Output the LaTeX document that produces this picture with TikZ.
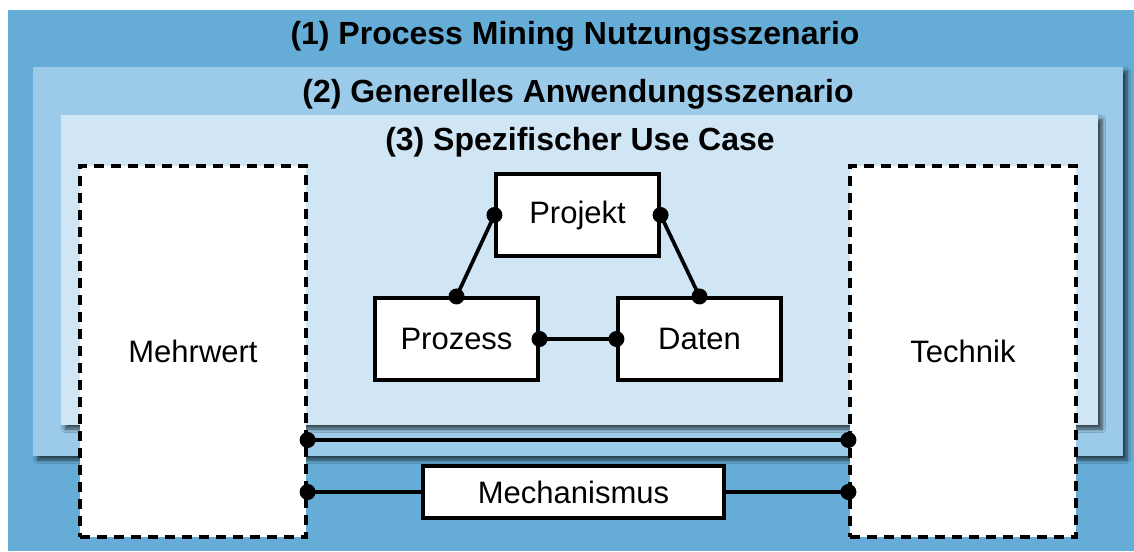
\documentclass[tikz,border=0pt]{standalone}
\usepackage{fontspec}
\setmainfont{Liberation Sans}
\usetikzlibrary{shadows.blur,calc}

\definecolor{levelone}{HTML}{65ADD6}
\definecolor{leveltwo}{HTML}{9BCBE9}
\definecolor{levelthree}{HTML}{D0E6F5}

\tikzset{
  frameshadow/.style={blur shadow={shadow xshift=4pt, shadow yshift=-4pt,
      shadow blur radius=3.5pt, shadow blur steps=8, shadow opacity=65}},
  titletext/.style={anchor=base, font=\fontsize{32}{36}\selectfont\bfseries},
  sidebox/.style={draw=black, fill=white, line width=3.2pt,
      dash pattern=on 10pt off 7pt, minimum width=226pt, minimum height=371pt,
      inner sep=0pt, font=\fontsize{31}{36}\selectfont},
  entity/.style={draw=black, fill=white, line width=3.1pt, minimum width=163pt,
      minimum height=82pt, inner sep=0pt, font=\fontsize{31}{36}\selectfont},
  link/.style={line width=3.7pt, black},
  dotmark/.style={circle, fill=black, inner sep=0pt, minimum size=16pt},
}

\begin{document}
\begin{tikzpicture}[x=1pt, y=-1pt]
\useasboundingbox (0,0) rectangle (1134,551);

% nested scenario levels
\fill[levelone] (8,10) rectangle (1134,551);
\path[fill=leveltwo, frameshadow] (33,67) rectangle (1123,456);
\path[fill=levelthree, frameshadow] (61,115) rectangle (1098,425);

\node[titletext] (t1) at (575,45) {(1) Process Mining Nutzungsszenario};
\node[titletext] (t2) at (578,102) {(2) Generelles Anwendungsszenario};
\node[titletext] (t3) at (580,150) {(3) Spezifischer Use Case};

% value and technology columns
\node[sidebox] (mw) at (193,351.5) {Mehrwert};
\node[sidebox] (tk) at (963,351.5) {Technik};

% core triangle
\node[entity] (proj) at (577.5,215) {Projekt};
\node[entity] (proz) at (456.5,339) {Prozess};
\node[entity] (dat)  at (699.5,339) {Daten};

\draw[link] (proj.west) -- (proz.north)
  node[dotmark, pos=0] {} node[dotmark, pos=1] {};
\draw[link] (proj.east) -- (dat.north)
  node[dotmark, pos=0] {} node[dotmark, pos=1] {};
\draw[link] (proz.east) -- (dat.west)
  node[dotmark, pos=0] {} node[dotmark, pos=1] {};

% connections between the columns
\coordinate (upper) at (578,440);
\node[entity, minimum width=301pt, minimum height=52pt] (mech) at (573.5,492) {Mechanismus};

\draw[link] (mw.east |- upper) -- (tk.west |- upper)
  node[dotmark, pos=0] {} node[dotmark, pos=1] {};
\draw[link] (mw.east |- mech) -- (mech.west);
\draw[link] (mech.east) -- (tk.west |- mech);
\node[dotmark] at (mw.east |- mech) {};
\node[dotmark] at (tk.west |- mech) {};
\end{tikzpicture}
\end{document}
